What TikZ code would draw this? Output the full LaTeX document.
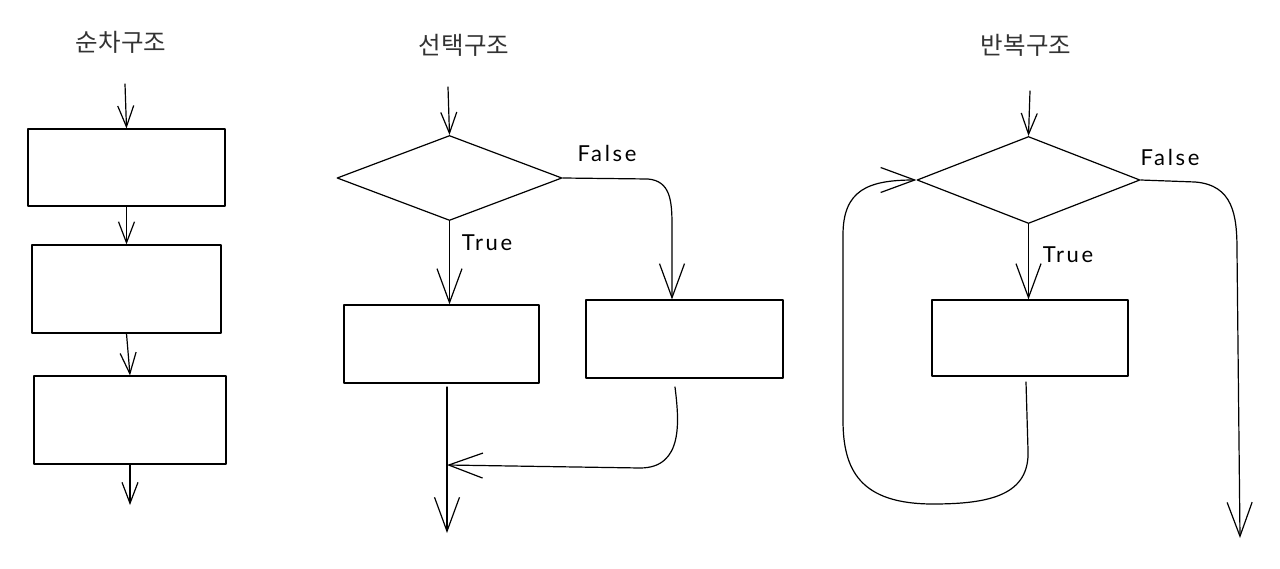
\documentclass[tikz,border=0pt]{standalone}
\usepackage{fontspec}
\newfontfamily\krfont{Noto Sans CJK KR}
\newfontfamily\lblfont[LetterSpace=12]{Lato}
\usetikzlibrary{shapes.geometric,arrows.meta}
\begin{document}
\begin{tikzpicture}[x=1pt,y=-1pt,
  line width=1.2pt, line cap=round, line join=round,
  boxnode/.style={draw,rectangle,inner sep=0pt,line width=1.2pt},
  decnode/.style={draw,diamond,inner sep=0pt,line width=1.2pt},
  title/.style={font=\krfont\fontsize{24.5}{28}\selectfont,text=black!80},
  lbl/.style={font=\lblfont\fontsize{22}{24}\selectfont},
  smallarr/.style={-{Straight Barb[length=21pt,width=16pt]}},
  bigarr/.style={-{Straight Barb[length=34pt,width=25pt]}}
]
\fill[white] (0,0) rectangle (1280,569);
\useasboundingbox (0,0) rectangle (1280,569);

% ---------- titles
\node[title] (t1) at (121,42) {순차구조};
\node[title] (t2) at (464,45) {선택구조};
\node[title] (t3) at (1026,45) {반복구조};

% ---------- sequence
\node[boxnode,minimum width=197pt,minimum height=77pt] (L1) at (126.5,167.5) {};
\node[boxnode,minimum width=189pt,minimum height=88pt] (L2) at (126.5,289) {};
\node[boxnode,minimum width=192pt,minimum height=88pt] (L3) at (130,420) {};
\coordinate (Lin) at (125,84);
\coordinate (Lout) at (130,505);
\draw[smallarr] (Lin) -- (L1.north);
\draw[smallarr] (L1.south) -- (L2.north);
\draw[smallarr] (L2.south) -- (L3.north);
\draw[smallarr] (L3.south) -- (Lout);

% ---------- selection
\node[decnode,minimum width=225pt,minimum height=85pt] (D1) at (449.5,178) {};
\node[boxnode,minimum width=195pt,minimum height=78pt] (M1) at (441.5,344) {};
\node[boxnode,minimum width=197pt,minimum height=78pt] (M2) at (684.5,339) {};
\coordinate (Min) at (448,87);
\coordinate (Mout) at (447,533);
\coordinate (Mmerge) at (447,465);
\coordinate (M2out) at (675,387);
\draw[smallarr] (Min) -- (D1.north);
\draw[bigarr] (D1.south) -- (D1.south |- M1.north);
\draw[bigarr] (D1.east) -- (648,179) .. controls (670,181) and (672,200) .. (672,225) -- ([xshift=-12.5pt]M2.north);
\draw[bigarr] (Mout |- M2out) -- (Mout);
\draw[bigarr] (M2out) .. controls (679,420) and (684,468) .. (640,468) -- (Mmerge);
\node[lbl] (lt1) at (487,243) {True};
\node[lbl] (lf1) at (607,153) {False};

% ---------- repetition
\node[decnode,minimum width=223pt,minimum height=87pt] (D2) at (1028.5,180) {};
\node[boxnode,minimum width=196pt,minimum height=76pt] (R1) at (1030,338) {};
\coordinate (Rin) at (1030,91);
\coordinate (Rout) at (1240,538);
\coordinate (Rloop) at (1026,382);
\draw[smallarr] (Rin) -- (D2.north);
\draw[bigarr] (D2.south) -- (D2.south |- R1.north);
\draw[bigarr] (Rloop) -- (1028,450) .. controls (1030,495) and (990,504) .. (933,504)
  .. controls (860,504) and (843,470) .. (843,420) -- (843,235)
  .. controls (843,190) and (868,180) .. (D2.west);
\draw[bigarr] (D2.east) -- (1195,182) .. controls (1233,185) and (1237,215) .. (1237,250) -- (Rout);
\node[lbl] (lt2) at (1068,255) {True};
\node[lbl] (lf2) at (1170,157) {False};
\end{tikzpicture}
\end{document}
